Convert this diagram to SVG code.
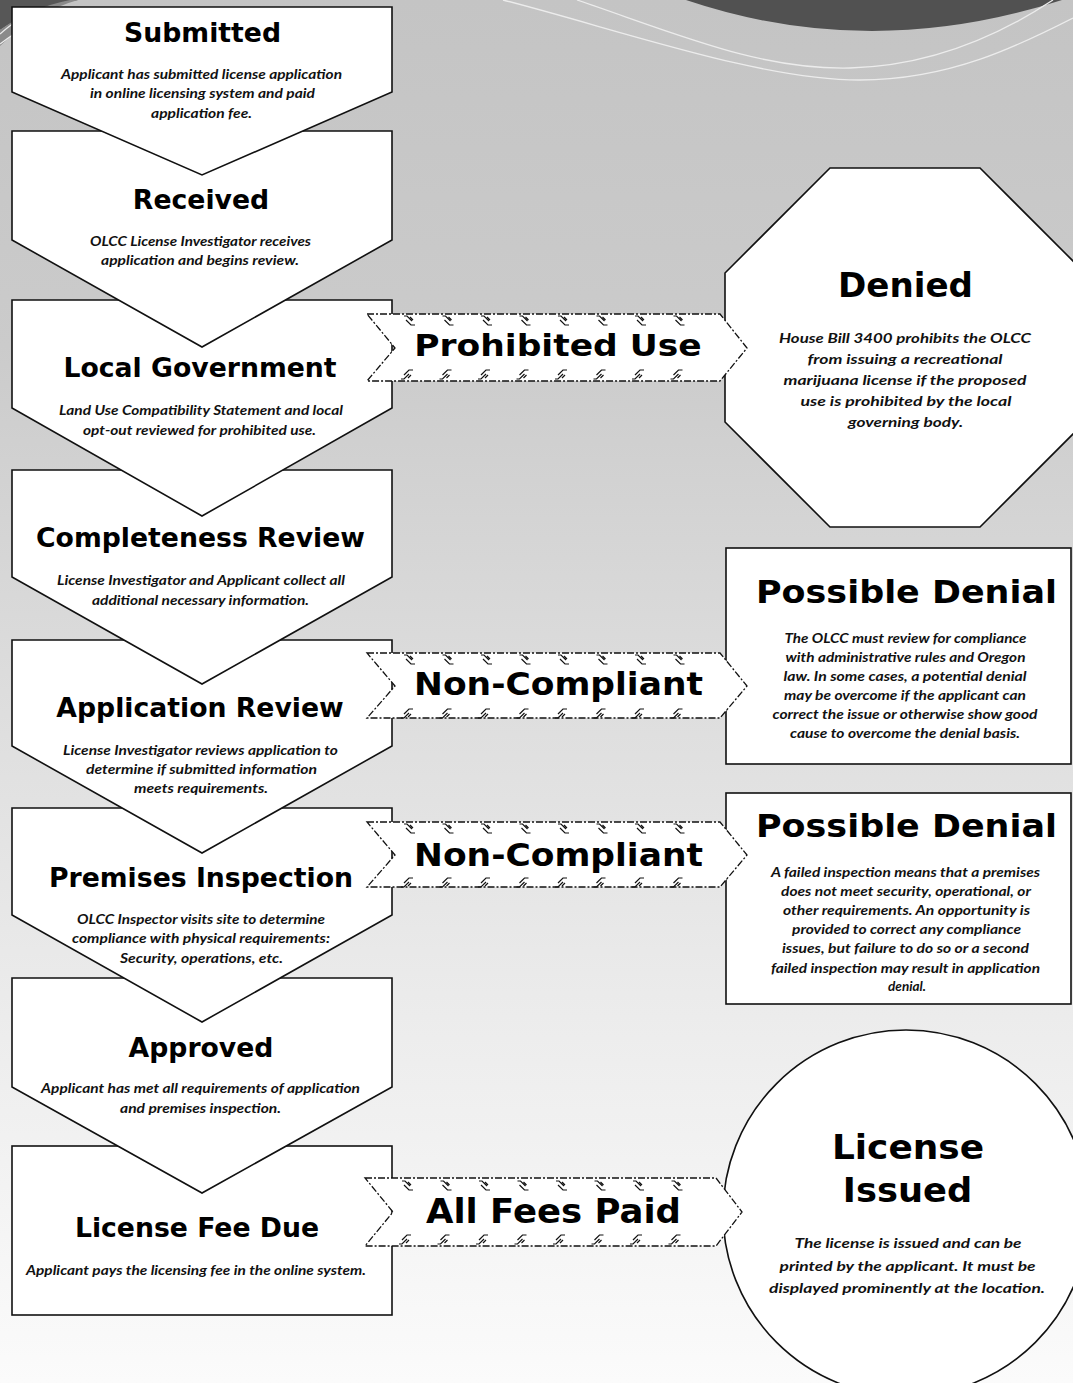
<svg xmlns="http://www.w3.org/2000/svg" xmlns:xlink="http://www.w3.org/1999/xlink" width="1073" height="1383" viewBox="0 0 1073 1383">
  <style>
    .box { fill: #fff; stroke: #111; stroke-width: 1.6; stroke-linejoin: miter; }
    .t { font-family: "DejaVu Sans", Verdana, sans-serif; font-weight: bold; font-size: 26.7px; text-anchor: middle; fill: #000; }
    .d { font-family: Lato, "Open Sans", sans-serif; font-style: italic; font-weight: 700; font-size: 13px; text-anchor: middle; fill: #111; }
    .d14 { font-size: 14px; }
    .h { font-family: "DejaVu Sans", Verdana, sans-serif; font-weight: bold; text-anchor: middle; fill: #000; }
    .arrow { fill: #fff; stroke: #111; stroke-width: 1.3; stroke-dasharray: 7 2 2 2; }
    .tick { fill: none; stroke: #111; stroke-width: 1.2; }
    .swirl { fill: none; stroke: #ececec; stroke-width: 1.3; }
  </style>
  <defs>
    <linearGradient id="bg" x1="0" y1="0" x2="0" y2="1">
      <stop offset="0" stop-color="#c4c4c4"/>
      <stop offset="0.25" stop-color="#cbcbcb"/>
      <stop offset="0.5" stop-color="#dddddd"/>
      <stop offset="0.75" stop-color="#ededed"/>
      <stop offset="1" stop-color="#fbfbfb"/>
    </linearGradient>
    <!-- small hatch marks along the top and bottom edges of the connector arrows -->
    <path id="tickTop" class="tick" d="M0 0 h3 l5 5 M2 4 l5 5 h4 M6 1 l3 3"/>
    <path id="tickBot" class="tick" d="M0 11 h3 l5 -5 M3 7 l5 -5 h4 M7 10 l3 -3"/>
    <g id="ticks">
      <use xlink:href="#tickTop" x="0" y="0"/><use xlink:href="#tickTop" x="38.5" y="0"/>
      <use xlink:href="#tickTop" x="77" y="0"/><use xlink:href="#tickTop" x="115.5" y="0"/>
      <use xlink:href="#tickTop" x="154" y="0"/><use xlink:href="#tickTop" x="192.5" y="0"/>
      <use xlink:href="#tickTop" x="231" y="0"/><use xlink:href="#tickTop" x="269.5" y="0"/>
      <use xlink:href="#tickBot" x="-3" y="52"/><use xlink:href="#tickBot" x="35.5" y="52"/>
      <use xlink:href="#tickBot" x="74" y="52"/><use xlink:href="#tickBot" x="112.5" y="52"/>
      <use xlink:href="#tickBot" x="151" y="52"/><use xlink:href="#tickBot" x="189.5" y="52"/>
      <use xlink:href="#tickBot" x="228" y="52"/><use xlink:href="#tickBot" x="266.5" y="52"/>
    </g>
  </defs>

  <!-- backdrop -->
  <rect x="0" y="0" width="1073" height="1383" fill="url(#bg)"/>
  <path d="M686 0 Q870 62 1062 0 Z" fill="#515151"/>
  <path d="M0 0 L78 0 Q35 6 0 30 Z" fill="#575757"/>
  <path d="M0 30 Q30 8 70 0 L78 0 Q35 12 0 46 Z" fill="#8a8a8a"/>
  <path class="swirl" d="M577 0 C680 35 760 70 850 68 C930 66 1000 35 1053 0"/>
  <path class="swirl" d="M503 0 C620 30 760 80 860 80 C950 80 1020 45 1073 18"/>
  <path class="swirl" d="M0 34 Q8 27 14 23"/>
  <path class="swirl" d="M0 44 Q8 38 14 34"/>

  <!-- process steps, drawn bottom-up so each step overlaps the next -->
  <g id="license-fee-due">
    <rect class="box" x="12" y="1146" width="380" height="169"/>
    <text class="t" x="197" y="1237">License Fee Due</text>
    <text class="d" x="196" y="1275" textLength="340" lengthAdjust="spacingAndGlyphs">Applicant pays the licensing fee in the online system.</text>
  </g>
  <g id="approved">
    <path class="box" d="M12 978 H392 V1087 L202 1193 L12 1087 Z"/>
    <text class="t" x="201" y="1057">Approved</text>
    <text class="d" x="200.5" y="1093" textLength="319" lengthAdjust="spacingAndGlyphs">Applicant has met all requirements of application</text>
    <text class="d" x="200.5" y="1113" textLength="161" lengthAdjust="spacingAndGlyphs">and premises inspection.</text>
  </g>
  <g id="premises-inspection">
    <path class="box" d="M12 808 H392 V915 L202 1022 L12 915 Z"/>
    <text class="t" x="201" y="887">Premises Inspection</text>
    <text class="d" x="201" y="924" textLength="248" lengthAdjust="spacingAndGlyphs">OLCC Inspector visits site to determine</text>
    <text class="d" x="201" y="943" textLength="258" lengthAdjust="spacingAndGlyphs">compliance with physical requirements:</text>
    <text class="d" x="201.5" y="963" textLength="163" lengthAdjust="spacingAndGlyphs">Security, operations, etc.</text>
  </g>
  <g id="application-review">
    <path class="box" d="M12 640 H392 V746 L202 853 L12 746 Z"/>
    <text class="t" x="200" y="717">Application Review</text>
    <text class="d" x="200.5" y="755" textLength="275" lengthAdjust="spacingAndGlyphs">License Investigator reviews application to</text>
    <text class="d" x="201.5" y="774" textLength="231" lengthAdjust="spacingAndGlyphs">determine if submitted information</text>
    <text class="d" x="201" y="793" textLength="134" lengthAdjust="spacingAndGlyphs">meets requirements.</text>
  </g>
  <g id="completeness-review">
    <path class="box" d="M12 470 H392 V577 L202 684 L12 577 Z"/>
    <text class="t" x="200.5" y="547">Completeness Review</text>
    <text class="d" x="201" y="585" textLength="288" lengthAdjust="spacingAndGlyphs">License Investigator and Applicant collect all</text>
    <text class="d" x="200.5" y="605" textLength="217" lengthAdjust="spacingAndGlyphs">additional necessary information.</text>
  </g>
  <g id="local-government">
    <path class="box" d="M12 300 H392 V408 L202 516 L12 408 Z"/>
    <text class="t" x="200" y="377">Local Government</text>
    <text class="d" x="201" y="415" textLength="284" lengthAdjust="spacingAndGlyphs">Land Use Compatibility Statement and local</text>
    <text class="d" x="199.5" y="435" textLength="233" lengthAdjust="spacingAndGlyphs">opt-out reviewed for prohibited use.</text>
  </g>
  <g id="received">
    <path class="box" d="M12 131 H392 V240 L202 347 L12 240 Z"/>
    <text class="t" x="201" y="209">Received</text>
    <text class="d" x="200.5" y="246" textLength="221" lengthAdjust="spacingAndGlyphs">OLCC License Investigator receives</text>
    <text class="d" x="200" y="265" textLength="198" lengthAdjust="spacingAndGlyphs">application and begins review.</text>
  </g>
  <g id="submitted">
    <path class="box" d="M12 7 H392 V92 L202 175 L12 92 Z"/>
    <text class="t" x="202.5" y="42">Submitted</text>
    <text class="d" x="201.5" y="79" textLength="281" lengthAdjust="spacingAndGlyphs">Applicant has submitted license application</text>
    <text class="d" x="202.5" y="98" textLength="225" lengthAdjust="spacingAndGlyphs">in online licensing system and paid</text>
    <text class="d" x="201.5" y="118" textLength="101" lengthAdjust="spacingAndGlyphs">application fee.</text>
  </g>

  <!-- outcomes -->
  <g id="denied">
    <polygon class="box" points="830,168 980,168 1085,273 1085,422 980,527 830,527 725,422 725,273"/>
    <text class="h" x="905.5" y="297" font-size="34" textLength="135" lengthAdjust="spacingAndGlyphs">Denied</text>
    <text class="d d14" x="905" y="343" textLength="252" lengthAdjust="spacingAndGlyphs">House Bill 3400 prohibits the OLCC</text>
    <text class="d d14" x="905" y="364" textLength="195" lengthAdjust="spacingAndGlyphs">from issuing a recreational</text>
    <text class="d d14" x="905" y="385" textLength="243" lengthAdjust="spacingAndGlyphs">marijuana license if the proposed</text>
    <text class="d d14" x="906" y="406" textLength="211" lengthAdjust="spacingAndGlyphs">use is prohibited by the local</text>
    <text class="d d14" x="905.5" y="427" textLength="115" lengthAdjust="spacingAndGlyphs">governing body.</text>
  </g>
  <g id="possible-denial-review">
    <rect class="box" x="726" y="548" width="345" height="216"/>
    <text class="h" x="906.5" y="603" font-size="31.5" textLength="301" lengthAdjust="spacingAndGlyphs">Possible Denial</text>
    <text class="d" x="905.5" y="643" textLength="242" lengthAdjust="spacingAndGlyphs">The OLCC must review for compliance</text>
    <text class="d" x="905.5" y="662" textLength="240" lengthAdjust="spacingAndGlyphs">with administrative rules and Oregon</text>
    <text class="d" x="905" y="681" textLength="243" lengthAdjust="spacingAndGlyphs">law. In some cases, a potential denial</text>
    <text class="d" x="905" y="700" textLength="242" lengthAdjust="spacingAndGlyphs">may be overcome if the applicant can</text>
    <text class="d" x="905" y="719" textLength="265" lengthAdjust="spacingAndGlyphs">correct the issue or otherwise show good</text>
    <text class="d" x="905" y="738" textLength="230" lengthAdjust="spacingAndGlyphs">cause to overcome the denial basis.</text>
  </g>
  <g id="possible-denial-inspection">
    <rect class="box" x="726" y="793" width="345" height="211"/>
    <text class="h" x="906.5" y="837" font-size="31.5" textLength="301" lengthAdjust="spacingAndGlyphs">Possible Denial</text>
    <text class="d" x="905.5" y="877" textLength="269" lengthAdjust="spacingAndGlyphs">A failed inspection means that a premises</text>
    <text class="d" x="906" y="896" textLength="250" lengthAdjust="spacingAndGlyphs">does not meet security, operational, or</text>
    <text class="d" x="906.5" y="915" textLength="247" lengthAdjust="spacingAndGlyphs">other requirements. An opportunity is</text>
    <text class="d" x="906.5" y="934" textLength="229" lengthAdjust="spacingAndGlyphs">provided to correct any compliance</text>
    <text class="d" x="905.5" y="953" textLength="247" lengthAdjust="spacingAndGlyphs">issues, but failure to do so or a second</text>
    <text class="d" x="905.5" y="973" textLength="269" lengthAdjust="spacingAndGlyphs">failed inspection may result in application</text>
    <text class="d" x="907" y="991" textLength="38" lengthAdjust="spacingAndGlyphs">denial.</text>
  </g>
  <g id="license-issued">
    <circle class="box" cx="906" cy="1213" r="183"/>
    <text class="h" transform="translate(908 1159) scale(1.08 1)" font-size="33" textLength="141" lengthAdjust="spacingAndGlyphs">License</text>
    <text class="h" transform="translate(907.5 1202) scale(1.06 1)" font-size="33" textLength="122" lengthAdjust="spacingAndGlyphs">Issued</text>
    <text class="d d14" x="908" y="1248" textLength="227" lengthAdjust="spacingAndGlyphs">The license is issued and can be</text>
    <text class="d d14" x="907.5" y="1271" textLength="256" lengthAdjust="spacingAndGlyphs">printed by the applicant. It must be</text>
    <text class="d d14" x="907" y="1293" textLength="276" lengthAdjust="spacingAndGlyphs">displayed prominently at the location.</text>
  </g>

  <!-- connectors: notched arrows from a step to its outcome -->
  <g id="connectors">
    <g id="prohibited-use">
      <polygon class="arrow" points="367,314 720,314 747,348 720,381 367,381 395,348"/>
      <use xlink:href="#ticks" x="404" y="316"/>
      <text class="h" transform="translate(558 356) scale(1.15 1)" font-size="30" textLength="250" lengthAdjust="spacingAndGlyphs">Prohibited Use</text>
    </g>
    <g id="non-compliant-review">
      <polygon class="arrow" points="367,653 720,653 747,686 720,718 367,718 395,686"/>
      <use xlink:href="#ticks" x="404" y="655"/>
      <text class="h" transform="translate(558.5 695) scale(1.09 1)" font-size="31.5" textLength="265" lengthAdjust="spacingAndGlyphs">Non-Compliant</text>
    </g>
    <g id="non-compliant-inspection">
      <polygon class="arrow" points="367,822 720,822 747,855 720,887 367,887 395,855"/>
      <use xlink:href="#ticks" x="404" y="824"/>
      <text class="h" transform="translate(558.5 866) scale(1.09 1)" font-size="31.5" textLength="265" lengthAdjust="spacingAndGlyphs">Non-Compliant</text>
    </g>
    <g id="all-fees-paid">
      <polygon class="arrow" points="365,1178 716,1178 742,1212 716,1246 365,1246 393,1212"/>
      <use xlink:href="#ticks" x="402" y="1181"/>
      <text class="h" x="553.5" y="1223" font-size="34" textLength="255" lengthAdjust="spacingAndGlyphs">All Fees Paid</text>
    </g>
  </g>
</svg>
